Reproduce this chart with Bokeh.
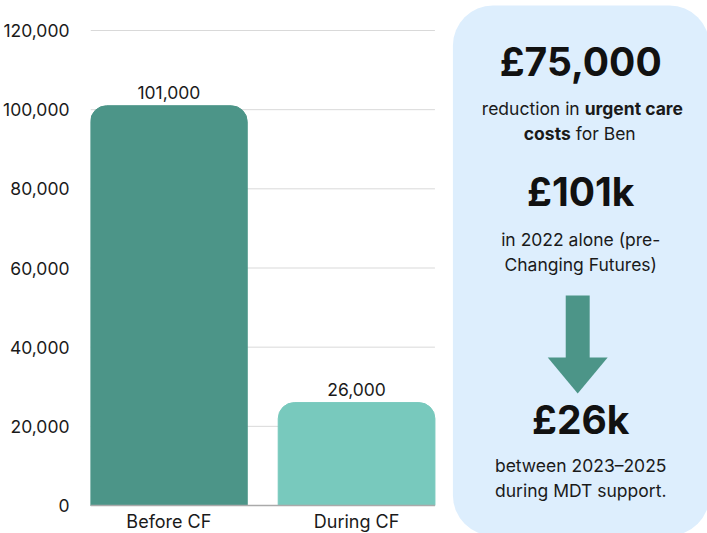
from bokeh.plotting import figure
from bokeh.models import ColumnDataSource, Range1d, FixedTicker, NumeralTickFormatter
from bokeh.core.properties import value
from bokeh.embed import file_html
from bokeh.resources import INLINE

# ---- data ----
categories = ["Before CF", "During CF"]
costs = [101000, 26000]
bar_colors = ["#4C9588", "#78C9BD"]
y_ticks = [0, 20000, 40000, 60000, 80000, 100000, 120000]

FONT = "Inter"
TXT = "#1a1a1a"
FS = "17.5px"

# ---- layout geometry (page pixels) ----
W, H = 707, 533
FRAME_LEFT = 89
Y0_PX, YMAX_PX = 505, 30          # where 0 and 120,000 sit
BAR_STEP_PX = 188                  # distance between bar centres
FIRST_BAR_CENTRE_PX = 167.5
BAR_W = 0.835
YMAX = max(y_ticks)

k = (Y0_PX - YMAX_PX) / YMAX       # px per unit
y_start = -(H - Y0_PX) / k
y_end = YMAX + YMAX_PX / k
x_start = 0.5 - (FIRST_BAR_CENTRE_PX - FRAME_LEFT) / BAR_STEP_PX
x_end = x_start + (W - FRAME_LEFT) / BAR_STEP_PX

xpos = [i + 0.5 for i in range(len(categories))]
src = ColumnDataSource(dict(
    x=xpos, top=costs, color=bar_colors,
    label=[f"{v:,}" for v in costs],
))

p = figure(width=W, height=H, output_backend="svg", toolbar_location=None,
           x_range=Range1d(x_start, x_end), y_range=Range1d(y_start, y_end),
           x_axis_type=None,
           min_border_left=FRAME_LEFT, min_border_right=0, min_border_top=0, min_border_bottom=0)
p.extra_x_ranges = {"px": Range1d(FRAME_LEFT, W)}
p.extra_y_ranges = {"py": Range1d(H, 0)}
p.outline_line_color = None
p.background_fill_color = "white"
p.border_fill_color = "white"
p.xgrid.grid_line_color = None
p.ygrid.grid_line_color = None

# grid lines (only across the bar area)
grid_x1 = xpos[-1] + BAR_W / 2
gy = [t for t in y_ticks if t > 0]
p.segment(x0=[x_start] * len(gy), x1=[grid_x1] * len(gy), y0=gy, y1=gy,
          line_color="#d9d9d9", line_width=1)

p.vbar(x="x", top="top", bottom=0, width=BAR_W, color="color", source=src,
       border_radius=(16, 16, 0, 0))
p.segment(x0=[x_start], x1=[grid_x1], y0=[0], y1=[0], line_color="#aaaaaa", line_width=1.5)

p.text(x="x", y="top", text="label", source=src, text_align="center",
       text_baseline="middle", y_offset=-13, text_font=value(FONT),
       text_font_size=FS, text_color=TXT)
p.text(x=xpos, y=[0] * len(xpos), text=categories, text_align="center",
       text_baseline="middle", y_offset=16, text_font=value(FONT),
       text_font_size="18px", text_color=TXT)

p.yaxis.ticker = FixedTicker(ticks=y_ticks)
p.yaxis.formatter = NumeralTickFormatter(format="0,0")
p.yaxis.axis_line_color = None
p.yaxis.major_tick_line_color = None
p.yaxis.minor_tick_line_color = None
p.yaxis.major_label_standoff = 15
p.yaxis.major_label_text_font = FONT
p.yaxis.major_label_text_font_size = FS
p.yaxis.major_label_text_color = TXT

# ---- right-hand panel (page-pixel coordinates) ----
R = dict(x_range_name="px", y_range_name="py")
p.quad(left=452, right=709, top=5, bottom=535, fill_color="#ddeefd",
       line_color=None, border_radius=40, **R)

before, during = costs
cx = 580

def big(txt, y):
    p.text(x=[cx], y=[y], text=[txt], text_align="center", text_baseline="middle",
           text_font=value(FONT), text_font_style="bold", text_font_size="39px",
           text_color="#111111", **R)

def small(txt, x, y, align="center", bold=False):
    p.text(x=[x], y=[y], text=[txt], text_align=align, text_baseline="middle",
           text_font=value(FONT), text_font_style="bold" if bold else "normal",
           text_font_size=FS, text_color=TXT, **R)

big(f"£{before - during:,}", 61)
small("reduction in", 579, 108, "right")
small("urgent care", 584, 108, "left", bold=True)
small("costs", 570, 133, "right", bold=True)
small("for Ben", 575, 133, "left")

big(f"£{before // 1000}k", 191)
small("in 2022 alone (pre-", cx, 239)
small("Changing Futures)", cx, 264)

# arrow
p.quad(left=565, right=589, top=295, bottom=359, fill_color="#4C9588", line_color=None, **R)
p.patch(x=[547, 607, 577], y=[357, 357, 393], fill_color="#4C9588", line_color=None, **R)

big(f"£{during // 1000}k", 419)
small("between 2023–2025", cx, 465)
small("during MDT support.", cx, 490)

open("out.html", "w").write(file_html(p, INLINE))
